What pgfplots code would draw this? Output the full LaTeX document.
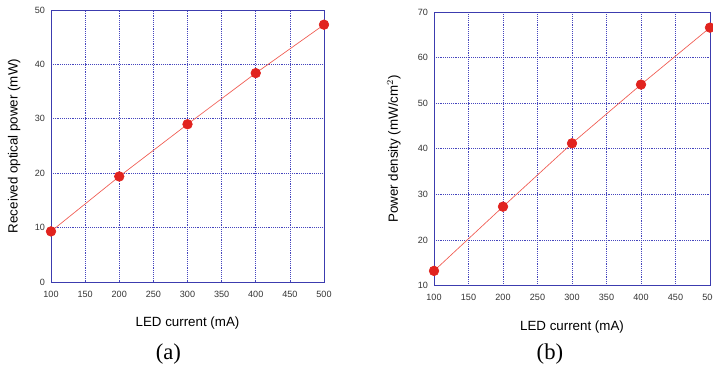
\documentclass[border=0pt]{standalone}
\usepackage{fontspec}
\setmainfont{Liberation Sans}
\newfontfamily\seriffont{Liberation Serif}
\usepackage{pgfplots}
\pgfplotsset{compat=1.18}
\definecolor{gridblue}{RGB}{70,70,190}
\definecolor{axblue}{RGB}{60,60,175}
\definecolor{ptred}{RGB}{225,35,30}
\definecolor{lnred}{RGB}{240,90,80}
\pgfplotsset{
  myax/.style={
    scale only axis,
    anchor=south west,
    clip mode=individual,
    xmin=100, xmax=500,
    xtick={100,150,...,500},
    grid=major,
    major grid style={gridblue, densely dotted, line width=0.5pt},
    axis line style={axblue, line width=0.6pt},
    major tick length=0pt,
    tick label style={font=\fontsize{6.8}{8}\selectfont, text=black!80},
    /pgf/number format/assume math mode=true,
    xticklabel style={yshift=-3pt},
    yticklabel style={xshift=-1pt},
    label style={font=\fontsize{10}{12}\selectfont},
    xlabel style={yshift=-8pt},
  }
}
\begin{document}
\begin{tikzpicture}
\path[use as bounding box] (0,0) rectangle (534.75pt,280.5pt);
\begin{axis}[myax,
  at={(38.25pt,69pt)}, width=204.75pt, height=204pt,
  ymin=0, ymax=50, ytick={0,10,...,50},
  xlabel={LED current (mA)},
  ylabel={Received optical power (mW)},
  ylabel style={yshift=4pt},
]
\addplot[lnred, line width=0.5pt, mark=*, mark size=3.6pt, mark options={fill=ptred, draw=ptred}]
  coordinates {(100,9.3) (200,19.4) (300,29.0) (400,38.4) (500,47.3)};
\node[font=\seriffont\fontsize{17}{19}\selectfont] at (axis description cs:0.43,-0.265) {(a)};
\end{axis}
\begin{axis}[myax,
  at={(325.5pt,66.4pt)}, width=207pt, height=205pt,
  ymin=10, ymax=70, ytick={10,20,...,70},
  xlabel={LED current (mA)},
  ylabel={Power density (mW/cm$^2$)},
  ylabel style={yshift=6pt},
]
\addplot[lnred, line width=0.5pt, mark=*, mark size=3.6pt, mark options={fill=ptred, draw=ptred}]
  coordinates {(100,13.2) (200,27.3) (300,41.2) (400,54.1) (500,66.6)};
\node[font=\seriffont\fontsize{17}{19}\selectfont] at (axis description cs:0.42,-0.25) {(b)};
\end{axis}
\end{tikzpicture}
\end{document}
